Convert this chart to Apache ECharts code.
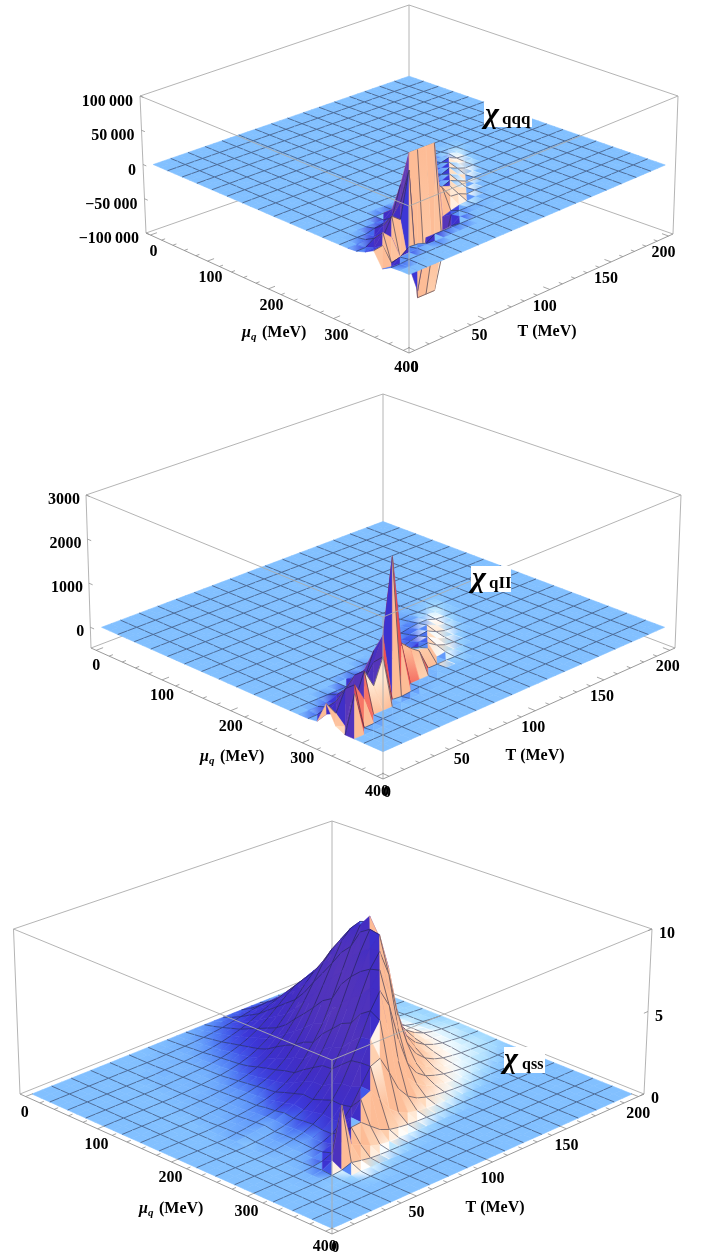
<!DOCTYPE html>
<html><head><meta charset="utf-8">
<script src="https://cdn.jsdelivr.net/npm/echarts@6/dist/echarts.min.js"></script>
<style>html,body{margin:0;padding:0;background:#fff}#c{width:705px;height:1260px}</style>
</head><body><div id="c"></div>
<script>
// Surface nodes: mu = 12.5*i MeV (i=0..32), T = 6.25*j MeV (j=0..32). Rows: [i, first j, values...]; unlisted nodes are 0.
const muStep = 12.5, tStep = 6.25, nodes = 33;
const muTicks = [0,100,200,300,400], tTicks = [0,50,100,150,200];
const muMinor = 20, tMinor = 10;
const qqqTicks = [[100000,'100\u2009000'],[50000,'50\u2009000'],[0,'0'],[-50000,'\u221250\u2009000'],[-100000,'\u2212100\u2009000']];
const qIITicks = [[3000,'3000'],[2000,'2000'],[1000,'1000'],[0,'0']];
const qssTicks = [[10,'10'],[5,'5'],[0,'0']];
// chi_qqq, in units of 1000
const qqqRows = [
[16,19,1,1,1],[17,18,1,2,3],[18,17,1,3,6,1],[19,16,1,4,8,3],[20,15,1,4,9,4],[21,13,1,1,4,9,4,-1],
[22,11,3,2,6,4,9,4,-1],[23,7,10,12,10,8,14,9,14,10,4,-1],[24,4,3,5,8,50,60,50,40,35,22,5,4,-1],
[25,2,2,2,12,18,34,100,100,100,100,-10,-6,-3,-2],[26,0,1,1,9,6,30,20,85,-100,-100,-100,-50,-2,-1,-1,-1],
[27,0,5,6,22,10,-25,-40,-80,-10,-12,-10,-8],[28,0,12,14,-15,-12,-3,-4,-8],[29,0,-8,-10,-2,-1],[30,0,-1,-1]];
// chi_qII
const qIIRows = [
[14,20,2,4,4],[15,18,5,14,12,10,10],[16,17,6,20,36,20,25,5],[17,16,8,24,52,63,50,12],[18,15,9,28,64,91,90,25,3],
[19,13,5,4,33,76,112,130,45,5],[20,12,15,33,26,88,133,160,65,9],[21,10,80,60,45,115,90,154,190,80,13,-3],
[22,7,110,200,90,280,210,160,265,208,220,90,16,-4],[23,4,86,68,100,385,500,315,640,480,360,330,260,-12,20,-5],
[24,2,80,64,300,240,350,880,1000,720,800,600,450,-8,-6,0,-6],[25,0,30,100,290,150,690,360,800,1300,2950,900,-15,-12,-10],
[26,0,500,200,650,300,860,450,1000,-20,-40,-20],[27,0,100,0,820,420,-8,-8,-8],[28,0,0,800,-25,-20]];
// chi_qss, in units of 0.01
const qssRows = [
[1,14,3,5,7,9,13,18,23,28,33,35,26,15,8,5,3,2,1,1,1],
[2,12,3,5,7,10,15,22,30,40,52,64,74,80,60,34,18,10,6,4,3,2,1],
[3,11,4,5,8,12,17,25,35,48,65,85,104,121,130,98,55,30,17,10,7,5,3,2],
[4,10,4,5,7,11,16,23,34,49,67,90,117,144,167,180,135,76,41,23,14,9,6,5,3],
[5,9,3,5,8,10,15,23,33,48,68,93,125,163,200,233,250,188,105,58,33,20,13,9,6,5],
[6,8,2,4,6,10,13,19,29,42,61,86,118,160,208,256,298,320,240,134,74,42,26,16,11,8,6],
[7,8,2,5,8,12,16,23,35,51,74,105,144,195,254,312,363,390,293,164,90,51,31,20,14,10,7],
[8,8,3,6,9,14,18,28,41,60,87,124,170,230,299,368,428,460,345,193,106,60,37,23,16,12,8],
[9,8,4,7,11,16,24,35,51,76,108,157,211,286,367,454,516,508,356,194,108,62,38,24,16,12,8],
[10,7,3,6,9,16,22,32,47,69,101,145,202,271,359,454,548,617,554,365,195,107,63,41,25,19,13,9],
[11,7,4,7,13,19,27,39,57,85,121,178,241,327,426,533,632,703,589,362,192,107,64,43,27,19,13,9],
[12,7,5,9,15,23,32,46,67,99,142,205,284,387,498,616,727,790,608,356,190,111,67,43,28,21,14,10],
[13,7,6,11,17,27,37,54,78,117,174,244,335,452,574,705,818,853,626,348,191,109,68,44,30,22,15,10],
[14,6,4,7,13,20,28,41,60,87,129,189,267,359,488,626,764,874,874,626,350,193,110,69,43,29,21,15,10],
[15,6,6,11,18,28,38,55,81,119,171,247,342,466,599,741,874,950,732,428,228,133,81,52,34,25,17,12,9],
[16,6,8,14,23,31,44,66,99,146,207,291,395,526,667,799,912,846,573,310,169,103,66,42,28,21,14,10,8],
[17,5,5,11,18,27,36,54,81,117,171,243,333,450,585,720,837,900,675,378,207,117,72,45,32,23,16,11,7,5],
[18,6,4,10,17,28,47,72,111,170,247,349,476,621,757,842,680,408,221,128,77,47,30,21,14,10,7,4,3],
[19,6,5,12,21,35,55,86,133,203,296,413,554,686,772,624,374,203,117,70,43,27,20,13,9,6,4],
[20,6,4,11,21,35,60,95,154,231,343,462,595,693,581,357,189,105,63,42,27,18,11,7,4],
[21,6,3,7,17,28,50,90,151,235,353,470,560,448,269,146,84,50,31,20,11,7,4,2],
[22,6,2,8,14,28,52,96,164,260,356,380,272,152,84,48,30,19,12,7,4,2],
[23,6,3,8,19,40,84,148,230,257,184,103,57,32,20,13,8,5,3],
[24,5,2,6,14,37,80,139,144,98,53,29,18,11,7,5,2,1],
[25,5,3,10,40,340,90,60,30,14,7,4,2],
[26,5,2,4,10,30,18,8,4,2,1],
[27,7,2,4,3,1]];

const inset = 0.0192;
const panels = [
 {rows:qqqRows, unit:1000, zmin:-100000, zmax:100000, zTicks:qqqTicks, zSide:'left', red:false,
  c:{L:[146,233],F:[409,353],R:[673,234],B:[409,141],tL:[140,96],tF:[409,206],tR:[678,96],tB:[409,5]},
  muOff:[3,17], tOff:[-5,17], t0dx:5, zOff:[-7,6], muLab:[242,333], tLab:[547,332],
  chi:{box:[484,102,48,25], sub:'qqq', chiX:492, chiY:115, subX:502, subY:120, sf:17}},
 {rows:qIIRows, unit:1, zmin:-470, zmax:3000, zTicks:qIITicks, zSide:'left', red:true,
  c:{L:[91,648],F:[383,779],R:[675,648],B:[383,537],tL:[86,495],tF:[383,617],tR:[681,495],tB:[383,394]},
  muOff:[0,16], tOff:[-2,17], t0dx:0, zOff:[-6,5], muLab:[200,757], tLab:[535,756],
  chi:{box:[471,566,40,26], sub:'qII', chiX:479, chiY:579, subX:489, subY:584, sf:17}},
 {rows:qssRows, unit:0.01, zmin:0, zmax:10, zTicks:qssTicks, zSide:'right', red:false,
  c:{L:[20,1094],F:[332,1234],R:[644,1094],B:[332,969],tL:[13.5,929],tF:[332,1060],tR:[652,929],tB:[332,821]},
  muOff:[-1,16], tOff:[0,17], t0dx:-3, zOff:[7,5], muLab:[139,1209], tLab:[495,1208],
  chi:{box:[504,1047,41,26], sub:'qss', chiX:511, chiY:1060, subX:522, subY:1065, sf:16}}
];

function homography(p00,p10,p11,p01){
  const dx1=p10[0]-p11[0],dx2=p01[0]-p11[0],sx=p00[0]-p10[0]+p11[0]-p01[0];
  const dy1=p10[1]-p11[1],dy2=p01[1]-p11[1],sy=p00[1]-p10[1]+p11[1]-p01[1];
  const den=dx1*dy2-dx2*dy1, g=(sx*dy2-dx2*sy)/den, h=(dx1*sy-sx*dy1)/den;
  const a=p10[0]-p00[0]+g*p10[0],b=p01[0]-p00[0]+h*p01[0],c=p00[0];
  const d=p10[1]-p00[1]+g*p10[1],e=p01[1]-p00[1]+h*p01[1],f=p00[1];
  return (u,v)=>{const q=g*u+h*v+1;return [(a*u+b*v+c)/q,(d*u+e*v+f)/q];};
}
function makeProjector(p){
  const c=p.c, low=homography(c.L,c.F,c.R,c.B), high=homography(c.tL,c.tF,c.tR,c.tB);
  p.box=(u,v,w)=>{const a=low(u,v),b=high(u,v);return [a[0]+(b[0]-a[0])*w,a[1]+(b[1]-a[1])*w];};
  p.U=mu=>inset+(1-2*inset)*mu/400;
  p.V=t=>inset+(1-2*inset)*t/200;
  p.W=z=>(Math.max(p.zmin,Math.min(p.zmax,z))-p.zmin)/(p.zmax-p.zmin);
  p.pt=(mu,t,z)=>p.box(p.U(mu),p.V(t),p.W(z));
}
const stops=[[-1.45,[100,60,178]],[-0.9,[66,45,195]],[-0.6,[60,48,205]],[-0.4,[60,60,222]],[-0.25,[70,108,240]],[-0.15,[95,150,250]],[-0.08,[115,176,253]],[0,[130,192,255]],
 [0.05,[165,220,255]],[0.11,[222,244,255]],[0.17,[255,255,255]],[0.3,[255,240,226]],[0.5,[255,220,190]],[0.8,[253,188,150]],[0.89,[250,130,110]],[0.97,[238,82,82]],[1.01,[235,75,80]]];
function colorOf(x){
  if(x<=stops[0][0])return 'rgb('+stops[0][1]+')';
  for(let k=1;k<stops.length;k++){ if(x<=stops[k][0]){
    const t=(x-stops[k-1][0])/(stops[k][0]-stops[k-1][0]),A=stops[k-1][1],B=stops[k][1];
    return 'rgb('+[0,1,2].map(n=>Math.round(A[n]+(B[n]-A[n])*t)).join(',')+')';}}
  return 'rgb(235,75,80)';
}
function effOf(dwdu,dwdv,red){
  const k=0.42,s=Math.SQRT1_2; let a=-dwdu*k,b=-dwdv*k,c=1;
  const m=Math.hypot(a,b,c); a/=m;b/=m;c/=m;
  if((a-b)*s*0.91+c*0.42<0){a=-a;b=-b;c=-c;}
  const nx=(a+b)*s, ny=(b-a)*s*0.42+c*0.91;
  const tau=Math.max(0,Math.min(1,1-ny/0.91));
  if(nx<0)return nx-tau*0.45;
  return (red&&nx>0.89)?nx:Math.min(0.8,nx+tau*0.3);
}
const series=[];
let zOrder=1;
const EDGE='#ababab', AXIS='#8f8f8f';
function lineEl(a,b,stroke,w){return {type:'line',silent:true,shape:{x1:a[0],y1:a[1],x2:b[0],y2:b[1]},style:{stroke:stroke,lineWidth:w}};}
function textEl(t,x,y,font,align,fill){return {type:'text',silent:true,style:{text:t,x:x,y:y,font:font,textAlign:align||'center',textVerticalAlign:'middle',fill:fill||'#000'}};}

panels.forEach(p=>{
  makeProjector(p);
  const Z=[];for(let i=0;i<nodes;i++)Z.push(new Array(nodes).fill(0));
  p.rows.forEach(r=>{for(let k=2;k<r.length;k++)Z[r[0]][r[1]+k-2]=r[k]*p.unit;});
  const quads=[];
  for(let i=0;i<nodes-1;i++)for(let j=0;j<nodes-1;j++)quads.push([i,j,Z[i][j],Z[i+1][j],Z[i+1][j+1],Z[i][j+1]]);
  quads.sort((a,b)=>(a[0]-a[1])-(b[0]-b[1]));
  const du=p.U(muStep)-p.U(0),dv=p.V(tStep)-p.V(0);
  // shading value at each node, from neighbouring nodes
  const E=Z.map((row,i)=>row.map((z,j)=>{
    const i0=Math.max(0,i-1),i1=Math.min(nodes-1,i+1),j0=Math.max(0,j-1),j1=Math.min(nodes-1,j+1);
    return effOf((p.W(Z[i1][j])-p.W(Z[i0][j]))/((i1-i0)*du),(p.W(Z[i][j1])-p.W(Z[i][j0]))/((j1-j0)*dv),p.red);
  }));

  // back box edges
  const backEdges=[[[0,1,0],[0,0,0]],[[0,1,0],[1,1,0]],[[0,1,0],[0,1,1]],[[0,1,1],[0,0,1]],[[0,1,1],[1,1,1]]];
  series.push({type:'custom',coordinateSystem:'none',silent:true,animation:false,z:zOrder++,data:backEdges.map((e,k)=>[k]),
    renderItem:(params)=>{const e=backEdges[params.dataIndex];return lineEl(p.box(...e[0]),p.box(...e[1]),EDGE,0.9);}});

  // surface
  series.push({type:'custom',coordinateSystem:'none',silent:true,animation:false,progressive:0,z:zOrder++,data:quads,
    renderItem:(params,api)=>{
      const i=api.value(0),j=api.value(1),mu0=i*muStep,mu1=(i+1)*muStep,t0=j*tStep,t1=(j+1)*tStep;
      const z00=api.value(2),z10=api.value(3),z11=api.value(4),z01=api.value(5);
      const A=p.pt(mu0,t0,z00),B=p.pt(mu1,t0,z10),C=p.pt(mu1,t1,z11),D=p.pt(mu0,t1,z01);
      const w00=p.W(z00),w10=p.W(z10),w11=p.W(z11),w01=p.W(z01);
      const eA=E[i][j],eB=E[i+1][j],eC=E[i+1][j+1],eD=E[i][j+1];
      const hi=Math.max(eA,eB,eC,eD),lo=Math.min(eA,eB,eC,eD);
      const kids=[];
      if(hi-lo<0.5){
        let fill=colorOf((eA+eB+eC+eD)/4),stroke=fill;
        if(hi-lo>0.004){
          const ac=Math.abs(eA-eC)>=Math.abs(eB-eD);
          const P=ac?A:B,Q=ac?C:D,e1=ac?eA:eB,e2=ac?eC:eD;
          fill=new echarts.graphic.LinearGradient(P[0],P[1],Q[0],Q[1],[{offset:0,color:colorOf(e1)},{offset:1,color:colorOf(e2)}],true);
          stroke=colorOf((e1+e2)/2);
        }
        kids.push({type:'polygon',silent:true,shape:{points:[A,B,C,D]},style:{fill:fill,stroke:stroke,lineWidth:0.6}});
      }else{
        const c1=colorOf(effOf((w10-w00)/du,(w01-w00)/dv,p.red));
        const c2=colorOf(effOf((w11-w01)/du,(w11-w10)/dv,p.red));
        kids.push({type:'polygon',silent:true,shape:{points:[A,B,D]},style:{fill:c1,stroke:c1,lineWidth:0.5}});
        kids.push({type:'polygon',silent:true,shape:{points:[C,B,D]},style:{fill:c2,stroke:c2,lineWidth:0.5}});
      }
      const mesh='rgba(28,34,62,0.72)';
      if(i%2===0&&i>0)kids.push({type:'line',silent:true,shape:{x1:A[0],y1:A[1],x2:D[0],y2:D[1]},style:{stroke:mesh,lineWidth:0.75}});
      if((j+1)%2===0&&j+1<nodes-1)kids.push({type:'line',silent:true,shape:{x1:D[0],y1:D[1],x2:C[0],y2:C[1]},style:{stroke:mesh,lineWidth:0.75}});
      return {type:'group',children:kids};
    }});

  // front box edges, ticks, tick labels
  const frontEdges=[[[0,0,1],[1,0,1]],[[1,1,1],[1,0,1]],[[1,0,1],[1,0,0]],[[0,0,0],[0,0,1]],[[1,1,0],[1,1,1]]];
  const axisEdges=[[[0,0,0],[1,0,0]],[[1,1,0],[1,0,0]]];
  const marks=[];
  frontEdges.forEach(e=>marks.push(lineEl(p.box(...e[0]),p.box(...e[1]),EDGE,0.9)));
  axisEdges.forEach(e=>marks.push(lineEl(p.box(...e[0]),p.box(...e[1]),AXIS,0.9)));
  for(let m=0;m<=400;m+=muMinor){const L=m%100===0?0.022:0.012;marks.push(lineEl(p.box(p.U(m),0,0),p.box(p.U(m),L,0),AXIS,0.8));}
  for(let t=0;t<=200;t+=tMinor){const L=t%50===0?0.022:0.012;marks.push(lineEl(p.box(1,p.V(t),0),p.box(1-L,p.V(t),0),AXIS,0.8));}
  const F='bold 16px "Liberation Serif"';
  muTicks.forEach(m=>{const q=p.box(p.U(m),0,0);marks.push(textEl(String(m),q[0]+p.muOff[0],q[1]+p.muOff[1],F));});
  tTicks.forEach(t=>{const q=p.box(1,p.V(t),0);marks.push(textEl(String(t),q[0]+p.tOff[0]+(t===0?p.t0dx:0),q[1]+p.tOff[1],F));});
  p.zTicks.forEach(z=>{const w=p.W(z[0]);const q=p.zSide==='left'?p.box(0,0,w):p.box(1,1,w);
    const q2=p.zSide==='left'?p.box(0.014,0,w):p.box(1,1-0.014,w);
    marks.push(lineEl(q,q2,AXIS,0.8));
    marks.push(textEl(z[1],q[0]+p.zOff[0],q[1]+p.zOff[1],F,p.zSide==='left'?'right':'left'));});
  // axis titles
  const ml=p.muLab;
  marks.push(textEl('\u03bc',ml[0],ml[1],'italic bold 16px "Liberation Serif"','left'));
  marks.push(textEl('q',ml[0]+9,ml[1]+4,'italic bold 11px "Liberation Serif"','left'));
  marks.push(textEl('(MeV)',ml[0]+20,ml[1],F,'left'));
  marks.push(textEl('T (MeV)',p.tLab[0],p.tLab[1],F,'center'));
  // chi label
  const ch=p.chi;
  marks.push({type:'rect',silent:true,shape:{x:ch.box[0],y:ch.box[1],width:ch.box[2],height:ch.box[3]},style:{fill:'#fff'}});
  marks.push(textEl('\u03c7',ch.chiX,ch.chiY,'italic bold 30px "Liberation Serif"','center'));
  marks.push(textEl(ch.sub,ch.subX,ch.subY,'bold '+ch.sf+'px "Liberation Serif"','left'));
  series.push({type:'custom',coordinateSystem:'none',silent:true,animation:false,progressive:0,z:zOrder++,data:marks.map((m,k)=>[k]),
    renderItem:(params)=>marks[params.dataIndex]});
});
const chart=echarts.init(document.getElementById('c'),null,{renderer:'canvas'});
chart.setOption({animation:false,backgroundColor:'#fff',tooltip:{show:false},series:series});
</script></body></html>
